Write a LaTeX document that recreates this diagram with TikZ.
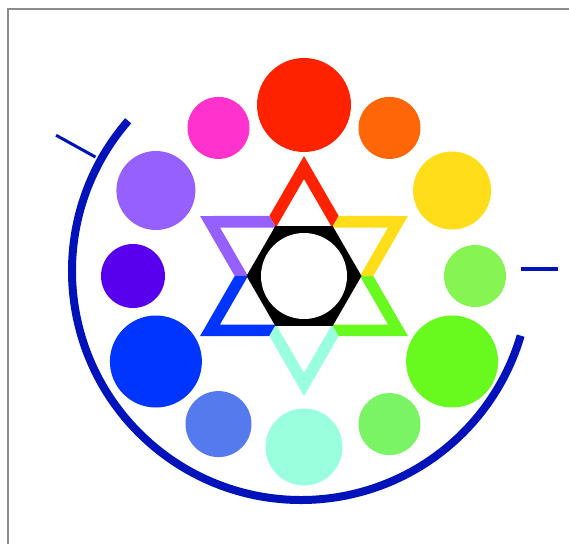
\documentclass[tikz,border=0pt]{standalone}
\usepackage{tikz}
\usetikzlibrary{calc}
\definecolor{WheelRed}{RGB}{255,34,0}
\definecolor{WheelOrange}{RGB}{255,102,8}
\definecolor{WheelYellow}{RGB}{255,221,24}
\definecolor{WheelLime}{RGB}{134,244,82}
\definecolor{WheelGreen}{RGB}{104,250,30}
\definecolor{WheelMint}{RGB}{122,244,100}
\definecolor{WheelAqua}{RGB}{153,255,220}
\definecolor{WheelCorn}{RGB}{85,122,238}
\definecolor{WheelBlue}{RGB}{0,52,255}
\definecolor{WheelViolet}{RGB}{88,0,238}
\definecolor{WheelPurple}{RGB}{150,96,255}
\definecolor{WheelMagenta}{RGB}{255,50,206}
\definecolor{RimBlue}{RGB}{0,18,185}
\definecolor{FrameGrey}{RGB}{140,140,140}

\begin{document}
\begin{tikzpicture}[
  x=1pt, y=1pt,
  spot/.style={circle, inner sep=0pt, outer sep=0pt, draw=none},
  rim/.style={draw=RimBlue, line width=8pt},
  scalebar/.style={draw=RimBlue}
]
\useasboundingbox (-304,-268) rectangle (265,276);
\draw[FrameGrey, line width=2pt] (-296,-268) -- (-296,267) -- (265,267);

\node[spot, fill=WheelRed, minimum size=94pt] (red) at (90:171) {};
\node[spot, fill=WheelOrange, minimum size=62pt] (orange) at (60:171) {};
\node[spot, fill=WheelYellow, minimum size=78pt] (yellow) at (30:171) {};
\node[spot, fill=WheelLime, minimum size=62pt] (lime) at (0:171) {};
\node[spot, fill=WheelGreen, minimum size=92pt] (green) at (-30:171) {};
\node[spot, fill=WheelMint, minimum size=62pt] (mint) at (-60:171) {};
\node[spot, fill=WheelAqua, minimum size=77pt] (aqua) at (-90:171) {};
\node[spot, fill=WheelCorn, minimum size=66pt] (corn) at (-120:171) {};
\node[spot, fill=WheelBlue, minimum size=92pt] (blue) at (-150:171) {};
\node[spot, fill=WheelViolet, minimum size=64pt] (violet) at (180:171) {};
\node[spot, fill=WheelPurple, minimum size=79pt] (purple) at (150:171) {};
\node[spot, fill=WheelMagenta, minimum size=62pt] (magenta) at (120:171) {};

\fill[WheelRed] (90:120) -- (120:69.3) -- (120:56) -- (90:97) -- (60:56) -- (60:69.3) -- cycle;
\fill[WheelPurple] (150:120) -- (180:69.3) -- (180:56) -- (150:97) -- (120:56) -- (120:69.3) -- cycle;
\fill[WheelBlue] (210:120) -- (240:69.3) -- (240:56) -- (210:97) -- (180:56) -- (180:69.3) -- cycle;
\fill[WheelAqua] (270:120) -- (300:69.3) -- (300:56) -- (270:97) -- (240:56) -- (240:69.3) -- cycle;
\fill[WheelGreen] (330:120) -- (360:69.3) -- (360:56) -- (330:97) -- (300:56) -- (300:69.3) -- cycle;
\fill[WheelYellow] (30:120) -- (60:69.3) -- (60:56) -- (30:97) -- (0:56) -- (0:69.3) -- cycle;

\fill[black] (0:57.5) -- (60:57.5) -- (120:57.5) -- (180:57.5) -- (240:57.5) -- (300:57.5) -- cycle;
\node[spot, fill=white, minimum size=86pt] (eye) at (0,0) {};

\coordinate (hub) at (-3,5);
\draw[rim] ($(hub)+(139:229)$) arc[start angle=139, end angle=343.6, radius=229];
\draw[scalebar, line width=3pt] ($(hub)+(151:235)$) -- ($(hub)+(151:280)$);
\coordinate (lime rim) at (217,7);
\draw[scalebar, line width=4.5pt] (lime rim) -- ++(37,0);
\end{tikzpicture}
\end{document}
